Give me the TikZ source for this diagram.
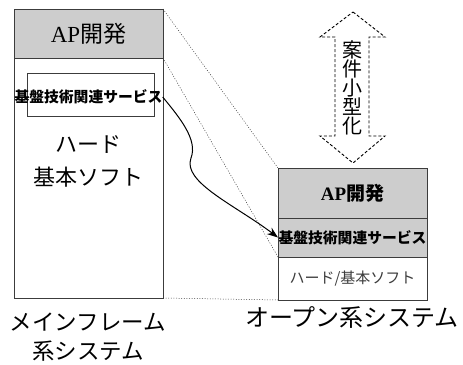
\documentclass[tikz,border=0pt]{standalone}
\usepackage{fontspec}
\setmainfont{Liberation Serif}
\newfontfamily\cjk{Noto Sans CJK JP}
\usetikzlibrary{arrows.meta}
\definecolor{boxgray}{RGB}{205,205,205}
\definecolor{edge}{RGB}{60,60,60}
\tikzset{
  box/.style={draw=edge, line width=0.9pt, inner sep=0pt, outer sep=0pt, anchor=north west},
  dotline/.style={draw=edge, line width=0.5pt, dash pattern=on 1pt off 1.6pt},
  curvearrow/.style={draw=black, line width=1pt, -{Stealth[length=11pt,width=8pt]}},
  dashshape/.style={draw=black, line width=0.9pt, dash pattern=on 3pt off 2pt, line join=miter},
  svcfont/.style={font=\cjk\bfseries\fontsize{14.8}{15}\selectfont},
  bigfont/.style={font=\cjk\fontsize{22}{33}\selectfont, align=center, inner sep=0pt},
  labelfont/.style={font=\cjk\fontsize{22.5}{29}\selectfont, align=center, inner sep=0pt}
}
\begin{document}
\begin{tikzpicture}[x=1pt,y=-1pt]
\useasboundingbox (0,0) rectangle (463,364);
% mainframe column
\node[box, minimum width=149pt, minimum height=289pt] (mf) at (14,9) {};
\node[box, fill=boxgray, minimum width=149pt, minimum height=49pt] (mfap) at (14,9) {};
\node[font=\cjk\fontsize{23}{23}\selectfont, inner sep=0pt] (mfaptext) at (mfap.center) {{\rmfamily AP}開発};
\node[box, minimum width=127pt, minimum height=43pt] (mfsvc) at (27,73) {};
\node[svcfont, inner sep=0pt] (mfsvctext) at (88.5,97) {基盤技術関連サービス};
\node[bigfont] (mfhw) at (88,161) {ハード\\基本ソフト};
% open system column
\node[box, fill=boxgray, minimum width=149pt, minimum height=50pt, font=\cjk\bfseries\fontsize{19}{19}\selectfont] (osap) at (278,168) {{\rmfamily\bfseries AP}開発};
\node[box, fill=boxgray, minimum width=149pt, minimum height=39pt, svcfont] (ossvc) at (278,218) {基盤技術関連サービス};
\node[box, minimum width=149pt, minimum height=43pt, font=\cjk\fontsize{15}{15}\selectfont, text=edge] (oshw) at (278,257) {ハード/基本ソフト};
% dotted guide lines
\draw[dotline] (mfap.north east) -- (osap.north west);
\draw[dotline] (mfap.south east) -- (ossvc.south west);
\draw[dotline] (mf.south east) -- (oshw.south west);
% curved arrow
\draw[curvearrow] (mfsvctext.east) .. controls (180,118) and (198,140) .. (191,158)
  .. controls (182,182) and (235,205) .. (ossvc.west);
% shrink double arrow
\node[font=\cjk\fontsize{20}{19}\selectfont, align=center, inner sep=0pt] (shrink) at (352,88) {案\\件\\小\\型\\化};
\draw[dashshape] (353,12) -- (385,37) -- (369,37) -- (369,136) -- (385,136) -- (353,163)
  -- (320,136) -- (335,136) -- (335,37) -- (320,37) -- cycle;
% labels
\node[labelfont] (mflabel) at (88,337) {メインフレーム\\系システム};
\node[labelfont, font=\cjk\fontsize{24}{29}\selectfont] (oslabel) at (352,317) {オープン系システム};
\end{tikzpicture}
\end{document}
